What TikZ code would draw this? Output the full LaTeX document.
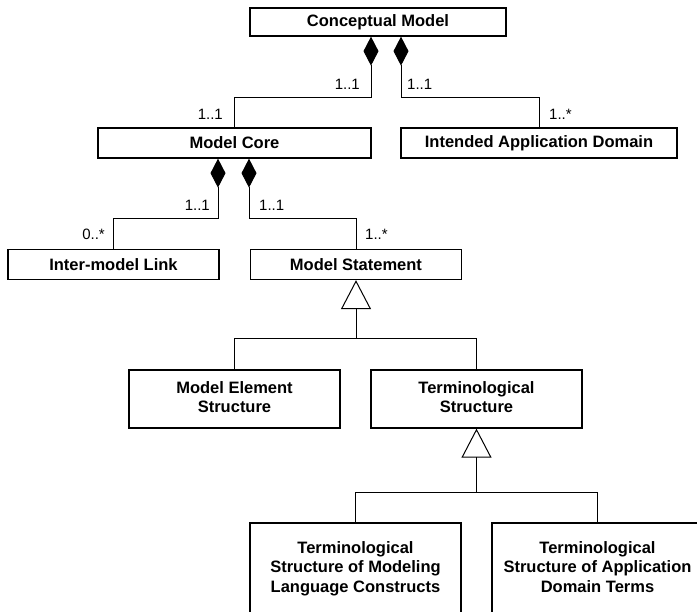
\documentclass[tikz,border=0pt]{standalone}
\usepackage{fontspec}
\setmainfont{Liberation Sans}
\usetikzlibrary{arrows.meta}
\tikzset{
  classe/.style={draw, line width=1.3pt, minimum width=211pt, minimum height=30pt,
    inner sep=0pt, align=center, font=\fontsize{16.5}{19.5}\selectfont\bfseries},
  liga/.style={line width=1pt},
  comp/.style={liga, {Diamond[length=29pt,width=15pt]}-},
  gen/.style={liga, {Triangle[open,length=29pt,width=30pt]}-},
  mult/.style={font=\fontsize{15}{18}\selectfont, inner sep=0pt}
}
\begin{document}
\begin{tikzpicture}[x=1pt, y=-1pt]  %px como unidade
        \useasboundingbox (0,0) rectangle (697,612);
        \clip (0,0) rectangle (697,612);
            %Classes
        \node[classe, minimum width=256pt, minimum height=28pt] (cm) at (378,22) {Conceptual Model};
        \node[classe, minimum width=273pt] (core) at (234.5,143) {Model Core};
        \node[classe, minimum width=276pt] (dom) at (539,143) {Intended Application Domain};
        \node[classe] (link) at (113.5,264.5) {Inter-model Link};
        \node[classe] (stmt) at (356,264.5) {Model Statement};
        \node[classe, minimum height=58pt] (mes) at (234.5,399) {\strut Model Element\\\strut Structure};
        \node[classe, minimum height=58pt] (ts) at (476.5,399) {\strut Terminological\\\strut Structure};
        \node[classe, minimum height=92pt] (tsml) at (355.5,569) {\strut Terminological\\\strut Structure of Modeling\\\strut Language Constructs};
        \node[classe, minimum height=92pt] (tsad) at (597.5,569) {\strut Terminological\\\strut Structure of Application\\\strut Domain Terms};
            %Composicoes
        \coordinate (cmA) at ([xshift=-7pt]cm.south);
        \coordinate (cmB) at ([xshift=23pt]cm.south);
        \coordinate (coreA) at ([xshift=-16.5pt]core.south);
        \coordinate (coreB) at ([xshift=14.5pt]core.south);
        \draw[comp] (cmA) -- ++(0,61) -| (core.north);
        \draw[comp] (cmB) -- ++(0,61) -| (dom.north);
        \draw[comp] (coreA) -- ++(0,60) -| (link.north);
        \draw[comp] (coreB) -- ++(0,60) -| (stmt.north);
            %Generalizacoes
        \draw[gen] (stmt.south) -- ++(0,58) coordinate (g1);
        \draw[liga] (mes.north) |- (g1) -| (ts.north);
        \draw[gen] (ts.south) -- ++(0,64) coordinate (g2);
        \draw[liga] (tsml.north) |- (g2) -| (tsad.north);
            %Multiplicidades
        \node[mult, anchor=base east] (m1) at (360,90) {1..1};
        \node[mult, anchor=base west] (m2) at (407,90) {1..1};
        \node[mult, anchor=base east] (m3) at (223,120) {1..1};
        \node[mult, anchor=base west] (m4) at (549,120) {1..*};
        \node[mult, anchor=base east] (m5) at (210,211) {1..1};
        \node[mult, anchor=base west] (m6) at (259,211) {1..1};
        \node[mult, anchor=base east] (m7) at (105,240) {0..*};
        \node[mult, anchor=base west] (m8) at (365,240) {1..*};
\end{tikzpicture}
\end{document}
